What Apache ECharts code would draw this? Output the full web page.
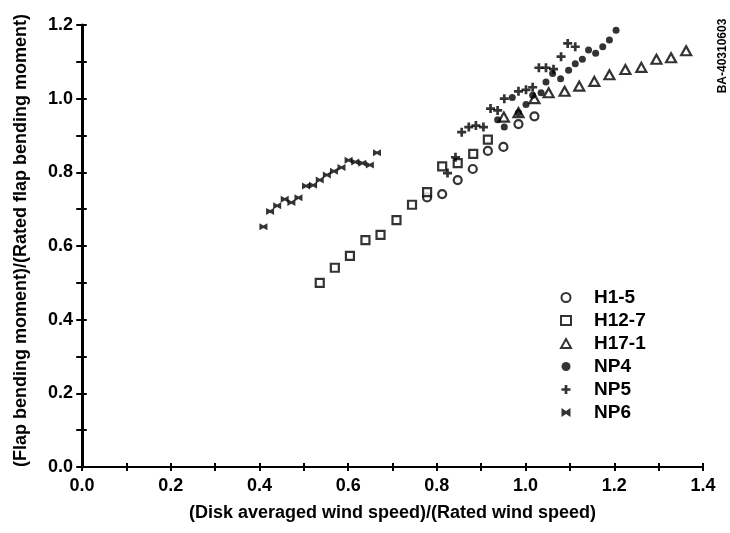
<!DOCTYPE html>
<html><head><meta charset="utf-8">
<script src="https://cdn.jsdelivr.net/npm/echarts@6/dist/echarts.min.js"></script>
<style>html,body{margin:0;padding:0;background:#fff}#c{width:730px;height:533px}</style>
</head><body><div id="c"></div>
<script>
const seriesNames = ['H1-5','H12-7','H17-1','NP4','NP5','NP6'];
const h15X = [0.778,0.812,0.847,0.881,0.915,0.950,0.984,1.020];
const h15Y = [0.732,0.741,0.779,0.809,0.858,0.869,0.931,0.952];
const h127X = [0.536,0.570,0.604,0.639,0.673,0.709,0.744,0.778,0.812,0.847,0.882,0.915];
const h127Y = [0.500,0.541,0.573,0.616,0.630,0.670,0.712,0.746,0.816,0.825,0.850,0.889];
const h171X = [0.951,0.984,1.020,1.052,1.088,1.121,1.155,1.189,1.225,1.261,1.295,1.328,1.362];
const h171Y = [0.950,0.962,1.000,1.016,1.020,1.034,1.047,1.065,1.079,1.085,1.107,1.111,1.130];
const np4X = [0.937,0.952,0.970,0.984,1.001,1.016,1.035,1.046,1.061,1.079,1.097,1.112,1.128,1.142,1.158,1.174,1.189,1.204];
const np4Y = [0.943,0.923,1.003,0.962,0.984,1.009,1.016,1.045,1.068,1.054,1.077,1.095,1.107,1.132,1.123,1.141,1.159,1.186];
const np5X = [0.824,0.842,0.856,0.872,0.888,0.905,0.921,0.937,0.952,0.984,1.001,1.016,1.030,1.046,1.063,1.080,1.095,1.112];
const np5Y = [0.798,0.841,0.909,0.923,0.927,0.923,0.973,0.968,1.000,1.020,1.024,1.031,1.084,1.084,1.080,1.114,1.150,1.141];
const np6X = [0.409,0.424,0.440,0.457,0.472,0.488,0.505,0.521,0.536,0.552,0.568,0.585,0.601,0.616,0.632,0.649,0.665];
const np6Y = [0.652,0.694,0.709,0.727,0.718,0.731,0.763,0.765,0.779,0.793,0.803,0.813,0.833,0.828,0.825,0.820,0.853];
const xTickLabels = ['0.0','0.2','0.4','0.6','0.8','1.0','1.2','1.4'];
const yTickLabels = ['0.0','0.2','0.4','0.6','0.8','1.0','1.2'];

const zip = (xs, ys) => xs.map((x, i) => [x, ys[i]]);
const font = '"Liberation Sans", Arial, sans-serif';
const black = '#000';
const emptyStyle = {color: '#fff', borderColor: black, borderWidth: 2.2};
const plusPath = 'path://M3.5,0H6.5V3.5H10V6.5H6.5V10H3.5V6.5H0V3.5H3.5Z';
const bowPath = 'path://M0,0L5,3.2L10,0V10L5,6.8L0,10Z';

const fmtX = v => { const r = Math.round(v * 10); return r % 2 === 0 ? xTickLabels[r / 2] : ''; };
const fmtY = v => { const r = Math.round(v * 10); return r % 2 === 0 ? yTickLabels[r / 2] : ''; };

const grid = {left: 82, right: 27, top: 25, bottom: 66};
const axLine = w => ({show: true, lineStyle: {color: black, width: w}});
const noLine = {show: false};
const tick = (inside, len, w) => ({show: true, inside: inside, length: len, lineStyle: {color: black, width: w}});
const xBase = {type: 'value', min: 0, max: 1.4, interval: 0.1, splitLine: {show: false}};
const yBase = {type: 'value', min: 0, max: 1.2, interval: 0.1, splitLine: {show: false}};

const chart = echarts.init(document.getElementById('c'), null, {renderer: 'canvas'});
chart.setOption({
  animation: false,
  backgroundColor: '#fff',
  grid: grid,
  legend: {
    orient: 'vertical', left: 555, top: 283, itemGap: 4,
    itemWidth: 10, itemHeight: 9,
    textStyle: {fontFamily: font, fontWeight: 'bold', fontSize: 19, color: black, padding: [0, 0, 0, 18]},
    data: seriesNames
  },
  xAxis: [
    Object.assign({}, xBase, {position: 'bottom',
     axisLine: axLine(2), axisTick: tick(true, 4, 2),
     axisLabel: {formatter: fmtX, fontFamily: font, fontWeight: 'bold', fontSize: 18, color: black, margin: 10},
     name: '(Disk averaged wind speed)/(Rated wind speed)', nameLocation: 'middle', nameGap: 37,
     nameTextStyle: {fontFamily: font, fontWeight: 'bold', fontSize: 18, color: black}}),
    Object.assign({}, xBase, {position: 'bottom', axisLine: noLine, axisTick: tick(false, 4, 2), axisLabel: {show: false}}),
    Object.assign({}, xBase, {position: 'top', axisLine: axLine(1.5), axisTick: tick(true, 4, 2), axisLabel: {show: false}}),
    Object.assign({}, xBase, {position: 'top', axisLine: noLine, axisTick: tick(false, 3, 2), axisLabel: {show: false}})
  ],
  yAxis: [
    Object.assign({}, yBase, {position: 'left',
     axisLine: axLine(2), axisTick: tick(false, 6, 1.5),
     axisLabel: {formatter: fmtY, fontFamily: font, fontWeight: 'bold', fontSize: 18, color: black, margin: 9},
     name: '(Flap bending moment)/(Rated flap bending moment)', nameLocation: 'middle', nameGap: 52,
     nameTextStyle: {fontFamily: font, fontWeight: 'bold', fontSize: 18, color: black, padding: [0, 0, 0, 11]}}),
    Object.assign({}, yBase, {position: 'left', axisLine: noLine, axisTick: tick(true, 5, 1.5), axisLabel: {show: false}}),
    Object.assign({}, yBase, {position: 'right', axisLine: axLine(3), axisTick: tick(true, 5, 2), axisLabel: {show: false}}),
    Object.assign({}, yBase, {position: 'right', axisLine: noLine, axisTick: tick(false, 4, 2), axisLabel: {show: false}})
  ],
  series: [
    {name: 'H1-5', type: 'scatter', symbol: 'circle', symbolSize: 8, itemStyle: emptyStyle, data: zip(h15X, h15Y)},
    {name: 'H12-7', type: 'scatter', symbol: 'rect', symbolSize: 8, itemStyle: emptyStyle, data: zip(h127X, h127Y)},
    {name: 'H17-1', type: 'scatter', symbol: 'triangle', symbolSize: [10, 9], itemStyle: emptyStyle, data: zip(h171X, h171Y)},
    {name: 'NP4', type: 'scatter', symbol: 'circle', symbolSize: 7, itemStyle: {color: black}, data: zip(np4X, np4Y)},
    {name: 'NP5', type: 'scatter', symbol: plusPath, symbolSize: 9, itemStyle: {color: black}, data: zip(np5X, np5Y)},
    {name: 'NP6', type: 'scatter', symbol: bowPath, symbolSize: [8, 7], itemStyle: {color: black}, data: zip(np6X, np6Y)}
  ],
  graphic: [
    {type: 'text', x: 723, y: 56, rotation: Math.PI / 2,
     style: {text: 'BA-40310603', fontFamily: font, fontWeight: 'bold', fontSize: 12, fill: black, align: 'center', verticalAlign: 'middle'}}
  ]
});
</script></body></html>
